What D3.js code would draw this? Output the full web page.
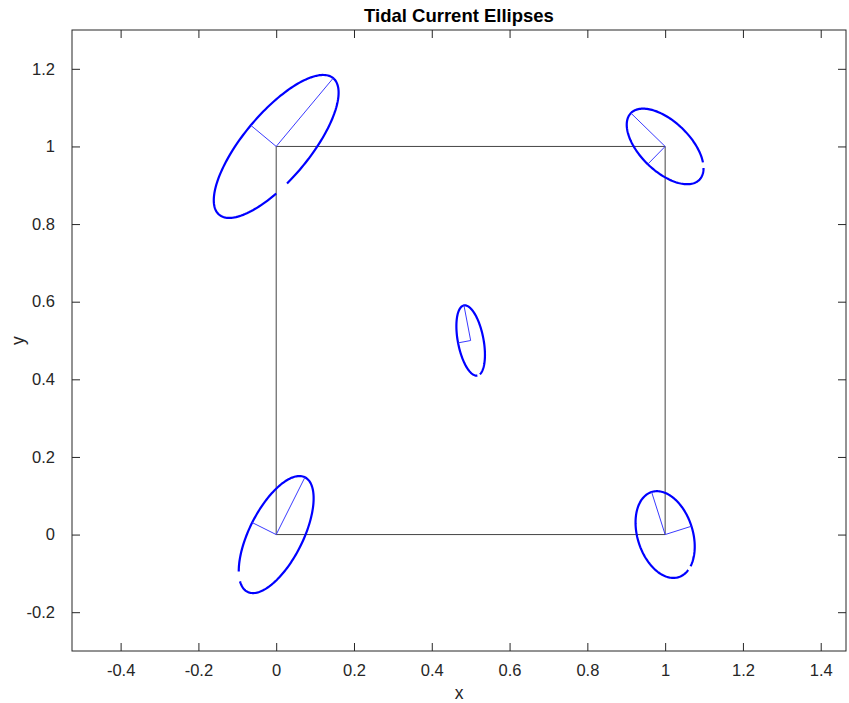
<!DOCTYPE html>
<head>
  <meta charset="utf-8">
  <script src="https://d3js.org/d3.v7.min.js"></script>
  <style>
    body { margin:0; background:white; }
    svg { font-family: "Liberation Sans", Arial, sans-serif; }
    .tick text { font-size: 16.5px; fill: #262626; }
  </style>
</head>
<body>
<script>
  // ellipse parameters
  var cx       = [0, 1, 0.5, 0, 1];
  var cy       = [1, 1, 0.5, 0, 0];
  var major    = [0.229, 0.123, 0.092, 0.165, 0.115];
  var minor    = [0.085, 0.064, 0.033, 0.069, -0.071];   // sign = side of minor line
  var incl     = [50.2, 135.7, 100.8, 63.4, 107.6];      // degrees
  var gapStart = [246, 207, 180, 142, 148];              // phase of the break, degrees
  var gapEnd   = [256, 217, 192, 155, 156];

  var xTicks = [-0.4, -0.2, 0, 0.2, 0.4, 0.6, 0.8, 1, 1.2, 1.4];
  var xLabels = ["-0.4", "-0.2", "0", "0.2", "0.4", "0.6", "0.8", "1", "1.2", "1.4"];
  var yTicks = [-0.2, 0, 0.2, 0.4, 0.6, 0.8, 1, 1.2];
  var yLabels = ["-0.2", "0", "0.2", "0.4", "0.6", "0.8", "1", "1.2"];

  var boxX = [0, 1, 1, 0, 0];
  var boxY = [0, 0, 1, 1, 0];

  var width = 849, height = 703;
  var margin = {top: 30, right: 3, bottom: 52, left: 72};

  var svg = d3.select("body").append("svg")
    .attr("width", width).attr("height", height);

  var x = d3.scaleLinear().domain([-0.525, 1.465]).range([margin.left, width - margin.right]);
  var y = d3.scaleLinear().domain([-0.3, 1.3]).range([height - margin.bottom, margin.top]);

  var axisColor = "#262626";
  var tl = 8;

  function styleAxis(g) {
    g.select(".domain").remove();
    g.selectAll(".tick line").attr("stroke", axisColor);
  }

  svg.append("g")
    .attr("transform", "translate(0," + y.range()[0] + ")")
    .call(d3.axisBottom(x).tickValues(xTicks).tickSizeInner(-tl).tickSizeOuter(0).tickPadding(13)
      .tickFormat(function(d, i) { return xLabels[i]; }))
    .call(styleAxis);
  svg.append("g")
    .attr("transform", "translate(0," + y.range()[1] + ")")
    .call(d3.axisTop(x).tickValues(xTicks).tickSizeInner(-tl).tickSizeOuter(0).tickFormat(""))
    .call(styleAxis);
  svg.append("g")
    .attr("transform", "translate(" + x.range()[0] + ",0)")
    .call(d3.axisLeft(y).tickValues(yTicks).tickSizeInner(-tl).tickSizeOuter(0).tickPadding(17)
      .tickFormat(function(d, i) { return yLabels[i]; }))
    .call(styleAxis);
  svg.append("g")
    .attr("transform", "translate(" + x.range()[1] + ",0)")
    .call(d3.axisRight(y).tickValues(yTicks).tickSizeInner(-tl).tickSizeOuter(0).tickFormat(""))
    .call(styleAxis);

  svg.append("rect")
    .attr("x", x.range()[0]).attr("y", y.range()[1])
    .attr("width", x.range()[1] - x.range()[0])
    .attr("height", y.range()[0] - y.range()[1])
    .attr("fill", "none").attr("stroke", axisColor).attr("stroke-width", 1);

  // unit square
  var line = d3.line().x(function(d) { return x(d[0]); }).y(function(d) { return y(d[1]); });
  svg.append("path")
    .attr("d", line(boxX.map(function(v, i) { return [v, boxY[i]]; })))
    .attr("fill", "none").attr("stroke", "#444").attr("stroke-width", 1);

  // ellipses
  var rad = Math.PI / 180;
  cx.forEach(function(c, i) {
    var th = incl[i] * rad;
    var ux = Math.cos(th), uy = Math.sin(th);
    var vx = -Math.sin(th), vy = Math.cos(th);
    var a = major[i], b = minor[i];
    var pts = d3.range(gapEnd[i], gapStart[i] + 360.01, 2).map(function(t) {
      var ct = Math.cos(t * rad), st = Math.sin(t * rad);
      return [c + a * ct * ux + b * st * vx, cy[i] + a * ct * uy + b * st * vy];
    });
    svg.append("path")
      .attr("d", line(pts))
      .attr("fill", "none").attr("stroke", "#0000ff").attr("stroke-width", 2.2);
    svg.append("path")
      .attr("d", line([[c + a * ux, cy[i] + a * uy], [c, cy[i]], [c + b * vx, cy[i] + b * vy]]))
      .attr("fill", "none").attr("stroke", "#3a3aff").attr("stroke-width", 1);
  });

  svg.append("text")
    .attr("x", (x.range()[0] + x.range()[1]) / 2).attr("y", 22)
    .attr("text-anchor", "middle").attr("font-weight", "bold").attr("font-size", 18.5)
    .attr("fill", "black").text("Tidal Current Ellipses");
  svg.append("text")
    .attr("x", (x.range()[0] + x.range()[1]) / 2).attr("y", 699)
    .attr("text-anchor", "middle").attr("font-size", 17.5).attr("fill", axisColor).text("x");
  svg.append("text")
    .attr("transform", "translate(24," + ((y.range()[0] + y.range()[1]) / 2) + ") rotate(-90)")
    .attr("text-anchor", "middle").attr("font-size", 17.5).attr("fill", axisColor).text("y");
</script>
</body>
